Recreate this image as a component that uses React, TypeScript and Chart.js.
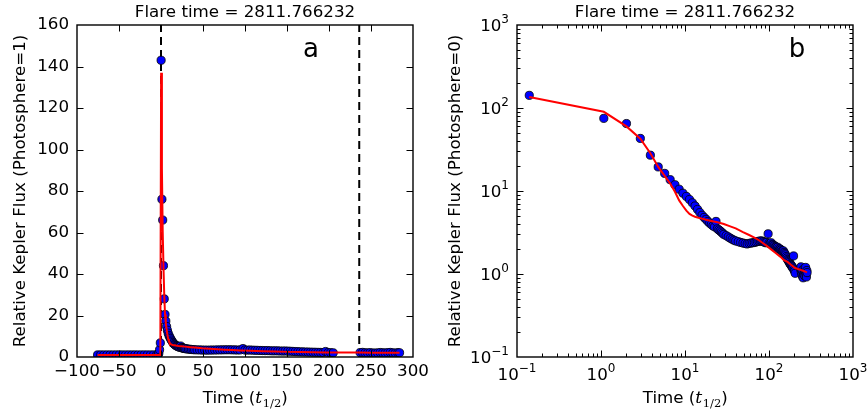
import React, { useEffect, useRef } from "react";
import { Chart, registerables } from "chart.js";

Chart.register(...registerables);

// ---------------- data ----------------
const titleText = "Flare time = 2811.766232";

// pre-flare light curve (Photosphere = 1)
const preTime = [-75.5, -71.8, -68.1, -64.4, -60.7, -57.0, -53.3, -49.6, -45.9, -42.2, -38.5, -34.8, -31.1, -27.4, -23.7, -20.0, -16.3, -12.6, -8.9, -5.2, -3.4, -2.6, -1.7, -0.8];
const preFlux = [1.0, 1.02, 0.99, 1.01, 1.0, 0.98, 1.01, 1.02, 1.0, 0.99, 1.01, 1.0, 1.02, 0.99, 1.0, 1.01, 1.0, 0.99, 1.02, 1.05, 1.1, 1.8, 3.5, 6.8];

// flare light curve (Photosphere = 0)
const postTime = [0.14, 1.08, 2.01, 2.94, 3.87, 4.8, 5.73, 6.66, 7.59, 8.52, 9.45, 10.38, 11.31, 12.24, 13.17, 14.1, 15.03, 15.96, 16.89, 17.82, 18.75, 19.68, 20.61, 21.54, 22.47, 23.4, 24.33, 25.26, 26.19, 27.12, 28.05, 28.98, 30.84, 32.7, 34.56, 36.42, 38.28, 40.14, 43, 46, 49, 52, 55, 58, 61, 64, 67, 70, 73, 76, 79, 82, 85, 88, 91, 94, 97.6, 100, 103, 106, 109, 112, 115, 118, 121, 124, 127, 130, 133, 136, 139, 142, 145, 148, 151, 154, 157, 160, 163, 166, 169, 172, 175, 178, 181, 184, 187, 190, 193, 196, 199, 202, 205, 237, 240, 243, 246, 249, 252, 255, 258, 261, 264, 267, 270, 273, 276, 279, 282, 284];
const postFlux = [142, 75, 65, 43, 27, 19.5, 16.3, 13.7, 11.9, 10.5, 9.4, 8.6, 7.9, 7.2, 6.6, 6.0, 5.5, 5.1, 4.8, 4.55, 4.3, 4.1, 3.95, 3.8, 3.7, 4.3, 3.5, 3.4, 3.3, 3.2, 3.1, 3.0, 2.9, 2.8, 2.7, 2.62, 2.55, 2.5, 2.45, 2.4, 2.36, 2.33, 2.3, 2.34, 2.36, 2.38, 2.4, 2.43, 2.46, 2.48, 2.5, 2.5, 2.46, 2.42, 2.38, 2.4, 3.05, 2.35, 2.32, 2.38, 2.28, 2.24, 2.2, 2.15, 2.12, 2.08, 2.1, 2.02, 1.96, 2.0, 1.95, 1.9, 1.86, 1.9, 1.82, 1.76, 1.7, 1.62, 1.56, 1.5, 1.46, 1.42, 1.38, 1.33, 1.3, 1.27, 1.24, 1.21, 1.17, 1.65, 1.12, 1.08, 1.02, 1.15, 1.22, 1.05, 0.98, 1.1, 0.93, 0.9, 1.0, 1.16, 1.06, 0.95, 1.1, 1.2, 1.0, 0.92, 1.1, 1.04];

// model fit (Photosphere = 0)
const modelPreTime = [-75.5, -0.8];
const modelPreFlux = [1.0, 1.0];
const modelTime = [0.14, 1.08, 2.01, 2.94, 3.87, 4.8, 5.73, 6.66, 7.59, 8.52, 9.45, 10.38, 11.31, 12.24, 13.17, 14.1, 15.96, 17.82, 20.61, 24.33, 28.98, 34.56, 40.14, 49, 58, 67, 76, 85, 94, 106, 121, 136, 151, 166, 181, 196, 205, 237, 250, 263, 276, 284];
const modelFlux = [136, 90, 60, 42.6, 28.5, 19.5, 15.2, 12.3, 9.8, 7.7, 6.6, 5.8, 5.3, 5.05, 4.9, 4.8, 4.65, 4.5, 4.35, 4.2, 4.0, 3.75, 3.55, 3.2, 2.95, 2.75, 2.55, 2.35, 2.18, 1.98, 1.78, 1.62, 1.47, 1.4, 1.3, 1.22, 1.18, 1.12, 1.1, 1.08, 1.06, 1.05];

// dashed markers (flare start / end)
const markerTimes = [0, 236];

// ticks
const linXTicks = [-100, -50, 0, 50, 100, 150, 200, 250, 300];
const linYTicks = [0, 20, 40, 60, 80, 100, 120, 140, 160];
const logTicks = [0.1, 1, 10, 100, 1000];
const logTickExponents = ["\u22121", "0", "1", "2", "3"];

// ---------------- helpers ----------------
const FONT = '"DejaVu Sans", sans-serif';
const FS = 16.7;
const W = 434;
const H = 415;

function minorLog(): number[] {
  const out: number[] = [];
  for (let k = 0; k < logTicks.length - 1; k++) {
    for (let m = 2; m <= 9; m++) out.push(logTicks[k] * m);
  }
  return out;
}

function drawTimeTitle(ctx: CanvasRenderingContext2D, cx: number, base: number) {
  const parts: [string, string, number][] = [
    ["Time (", `${FS}px ${FONT}`, 0],
    ["t", `italic ${FS + 0.5}px "DejaVu Serif", serif`, 0],
    ["1/2", `11.5px "DejaVu Serif", serif`, 4],
    [")", `${FS}px ${FONT}`, 0],
  ];
  let total = 0;
  const widths = parts.map(([t, f]) => {
    ctx.font = f;
    const w = ctx.measureText(t).width;
    total += w;
    return w;
  });
  let x = cx - total / 2;
  ctx.textAlign = "left";
  ctx.textBaseline = "alphabetic";
  parts.forEach(([t, f, dy], i) => {
    ctx.font = f;
    ctx.fillText(t, x, base + dy);
    x += widths[i] + (i === 1 ? 0.5 : 0);
  });
}

// power-of-ten label: "10" with a raised exponent
function drawPow(ctx: CanvasRenderingContext2D, exp: string, x: number, base: number, align: "center" | "right") {
  ctx.textAlign = "left";
  ctx.textBaseline = "alphabetic";
  ctx.font = `${FS}px ${FONT}`;
  const wb = ctx.measureText("10").width;
  ctx.font = `12px ${FONT}`;
  const we = ctx.measureText(exp).width;
  const total = wb + we;
  const x0 = align === "center" ? x - total / 2 : x - total;
  ctx.font = `${FS}px ${FONT}`;
  ctx.fillText("10", x0, base);
  ctx.font = `12px ${FONT}`;
  ctx.fillText(exp, x0 + wb, base - 8);
}

type Deco = {
  xMajor: number[];
  yMajor: number[];
  xMinor: number[];
  yMinor: number[];
  letter: string;
  letterX: number;
  yTitle: string;
  yTitleX: number;
  logLabels: boolean;
};

function decoPlugin(d: Deco) {
  return {
    id: "deco",
    afterDraw(chart: any) {
      const { ctx, chartArea: a } = chart;
      const xs = chart.scales.x;
      const ys = chart.scales.y;
      ctx.save();
      ctx.strokeStyle = "#000";
      ctx.lineWidth = 1;
      const vt = (vals: number[], len: number) => {
        vals.forEach((v) => {
          const p = Math.round(xs.getPixelForValue(v)) + 0.5;
          if (p < a.left + 1 || p > a.right - 1) return;
          ctx.beginPath();
          ctx.moveTo(p, a.bottom);
          ctx.lineTo(p, a.bottom - len);
          ctx.moveTo(p, a.top);
          ctx.lineTo(p, a.top + len);
          ctx.stroke();
        });
      };
      const ht = (vals: number[], len: number) => {
        vals.forEach((v) => {
          const p = Math.round(ys.getPixelForValue(v)) + 0.5;
          if (p < a.top + 1 || p > a.bottom - 1) return;
          ctx.beginPath();
          ctx.moveTo(a.left, p);
          ctx.lineTo(a.left + len, p);
          ctx.moveTo(a.right, p);
          ctx.lineTo(a.right - len, p);
          ctx.stroke();
        });
      };
      vt(d.xMajor, 6.5);
      ht(d.yMajor, 6.5);
      vt(d.xMinor, 3.5);
      ht(d.yMinor, 3.5);
      ctx.lineWidth = 1.4;
      ctx.strokeRect(a.left, a.top, a.right - a.left, a.bottom - a.top);

      ctx.fillStyle = "#000";
      if (d.logLabels) {
        logTicks.forEach((v, i) => {
          drawPow(ctx, logTickExponents[i], xs.getPixelForValue(v), a.bottom + 23, "center");
          drawPow(ctx, logTickExponents[i], a.left - 8, ys.getPixelForValue(v) + 6, "right");
        });
      }
      // panel title
      ctx.font = `${FS}px ${FONT}`;
      ctx.textAlign = "center";
      ctx.textBaseline = "alphabetic";
      ctx.fillText(titleText, (a.left + a.right) / 2, 17);
      // panel letter
      ctx.font = `26px ${FONT}`;
      ctx.fillText(d.letter, d.letterX, 57);
      // y title
      ctx.save();
      ctx.translate(d.yTitleX, (a.top + a.bottom) / 2);
      ctx.rotate(-Math.PI / 2);
      ctx.font = `${FS}px ${FONT}`;
      ctx.textAlign = "center";
      ctx.fillText(d.yTitle, 0, 0);
      ctx.restore();
      // x title
      drawTimeTitle(ctx, (a.left + a.right) / 2, 403);
      ctx.restore();
    },
  };
}

const dotStyle = {
  showLine: false,
  pointRadius: 4.1,
  pointBackgroundColor: "#0000ff",
  pointBorderColor: "#000000",
  pointBorderWidth: 0.8,
  pointHoverRadius: 4.1,
  order: 2,
};

const redStyle = {
  showLine: true,
  borderColor: "#ff0000",
  borderWidth: 2,
  pointRadius: 0,
  pointHoverRadius: 0,
  fill: false,
  tension: 0,
  order: 1,
};

function tickFont() {
  return { family: FONT, size: FS };
}

function makeLinear(canvas: HTMLCanvasElement) {
  const dots = [
    ...preTime.map((t, i) => ({ x: t, y: preFlux[i] })),
    ...postTime.map((t, i) => ({ x: t, y: postFlux[i] + 1 })),
  ];
  const model = [
    ...modelPreTime.map((t, i) => ({ x: t, y: modelPreFlux[i] })),
    ...modelTime.map((t, i) => ({ x: t, y: modelFlux[i] + 1 })),
  ];
  const dashed = markerTimes.map((t) => ({
    data: [
      { x: t, y: linYTicks[0] },
      { x: t, y: linYTicks[linYTicks.length - 1] },
    ],
    showLine: true,
    borderColor: "#000",
    borderWidth: 2,
    borderDash: [8, 5],
    pointRadius: 0,
    pointHoverRadius: 0,
    order: 3,
  }));
  return new Chart(canvas, {
    type: "scatter",
    data: {
      datasets: [
        { data: dots, ...dotStyle } as any,
        { data: model, ...redStyle } as any,
        ...(dashed as any[]),
      ],
    },
    options: {
      animation: false,
      responsive: false,
      devicePixelRatio: 1,
      events: [],
      layout: { padding: { left: 0, right: 21, top: 25, bottom: 0 } },
      plugins: { legend: { display: false }, tooltip: { enabled: false }, title: { display: false } },
      scales: {
        x: {
          type: "linear",
          min: linXTicks[0],
          max: linXTicks[linXTicks.length - 1],
          afterBuildTicks: (s: any) => {
            s.ticks = linXTicks.map((v) => ({ value: v }));
          },
          afterFit: (s: any) => {
            s.height = 58;
          },
          grid: { display: false, drawTicks: false },
          border: { display: false },
          ticks: {
            font: tickFont(),
            color: "#000",
            padding: 5,
            maxRotation: 0,
            autoSkip: false,
            callback: (v: any) => (Number(v) < 0 ? "\u2212" + Math.abs(Number(v)) : String(v)),
          },
        },
        y: {
          type: "linear",
          min: linYTicks[0],
          max: linYTicks[linYTicks.length - 1],
          afterBuildTicks: (s: any) => {
            s.ticks = linYTicks.map((v) => ({ value: v }));
          },
          afterFit: (s: any) => {
            s.width = 77;
          },
          grid: { display: false, drawTicks: false },
          border: { display: false },
          ticks: { font: tickFont(), color: "#000", padding: 8, autoSkip: false },
        },
      },
    } as any,
    plugins: [
      decoPlugin({
        xMajor: linXTicks,
        yMajor: linYTicks,
        xMinor: [],
        yMinor: [],
        letter: "a",
        letterX: 311,
        yTitle: "Relative Kepler Flux (Photosphere=1)",
        yTitleX: 25,
        logLabels: false,
      }),
    ],
  });
}

function makeLog(canvas: HTMLCanvasElement) {
  const dots = postTime.map((t, i) => ({ x: t, y: postFlux[i] }));
  const model = modelTime.map((t, i) => ({ x: t, y: modelFlux[i] }));
  const minors = minorLog();
  return new Chart(canvas, {
    type: "scatter",
    data: {
      datasets: [
        { data: dots, ...dotStyle } as any,
        { data: model, ...redStyle } as any,
      ],
    },
    options: {
      animation: false,
      responsive: false,
      devicePixelRatio: 1,
      events: [],
      layout: { padding: { left: 0, right: 15, top: 25, bottom: 0 } },
      plugins: { legend: { display: false }, tooltip: { enabled: false }, title: { display: false } },
      scales: {
        x: {
          type: "logarithmic",
          min: logTicks[0],
          max: logTicks[logTicks.length - 1],
          afterBuildTicks: (s: any) => {
            s.ticks = logTicks.map((v) => ({ value: v }));
          },
          afterFit: (s: any) => {
            s.height = 58;
          },
          grid: { display: false, drawTicks: false },
          border: { display: false },
          ticks: { display: false },
        },
        y: {
          type: "logarithmic",
          min: logTicks[0],
          max: logTicks[logTicks.length - 1],
          afterBuildTicks: (s: any) => {
            s.ticks = logTicks.map((v) => ({ value: v }));
          },
          afterFit: (s: any) => {
            s.width = 83;
          },
          grid: { display: false, drawTicks: false },
          border: { display: false },
          ticks: { display: false },
        },
      },
    } as any,
    plugins: [
      decoPlugin({
        xMajor: logTicks,
        yMajor: logTicks,
        xMinor: minors,
        yMinor: minors,
        letter: "b",
        letterX: 363,
        yTitle: "Relative Kepler Flux (Photosphere=0)",
        yTitleX: 26,
        logLabels: true,
      }),
    ],
  });
}

export default function App() {
  const leftRef = useRef<HTMLCanvasElement>(null);
  const rightRef = useRef<HTMLCanvasElement>(null);

  useEffect(() => {
    const c1 = makeLinear(leftRef.current!);
    const c2 = makeLog(rightRef.current!);
    return () => {
      c1.destroy();
      c2.destroy();
    };
  }, []);

  return (
    <div style={{ position: "absolute", left: 0, top: 0, width: 868, height: 415, background: "#fff" }}>
      <canvas
        ref={leftRef}
        width={W}
        height={H}
        style={{ position: "absolute", left: 0, top: 0, width: W, height: H }}
      />
      <canvas
        ref={rightRef}
        width={W}
        height={H}
        style={{ position: "absolute", left: W, top: 0, width: W, height: H }}
      />
    </div>
  );
}
